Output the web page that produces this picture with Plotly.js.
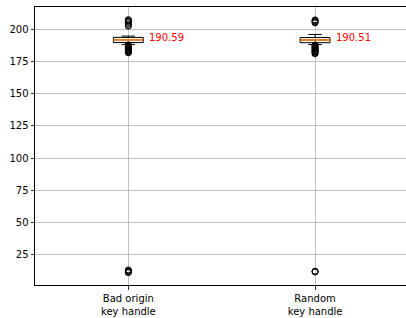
<!DOCTYPE html>
<html>
<head>
<meta charset="utf-8">
<script src="https://cdn.plot.ly/plotly-3.0.1.min.js"></script>
<style>html,body{margin:0;padding:0;background:#fff;}#chart{width:406px;height:318px;}</style>
</head>
<body>
<div id="chart"></div>
<script>
// ---- data ----
const positions = [1, 2];
const categories = ['Bad origin<br>key handle', 'Random<br>key handle'];
const q1 = [189.6, 189.5];
const medians = [191.7, 191.6];
const q3 = [193.6, 193.5];
const lowerWhisker = [188.2, 188.1];
const upperWhisker = [194.6, 195.9];
const meanLabels = [190.59, 190.51];
const outliersBad = [207.4, 206.9, 206.1, 205.3, 204.2, 202.9, 202.3,
  187.9, 187.4, 187.0, 186.5, 186.2, 185.7, 185.1, 184.8, 184.2, 183.9, 183.3, 182.9, 182.4, 182.0, 181.7,
  13.2, 12.6, 12.1, 11.5, 11.1];
const outliersRandom = [207.2, 206.7, 206.0, 205.4, 204.9,
  187.8, 187.3, 186.8, 186.2, 185.9, 185.3, 184.7, 184.3, 183.6, 183.1, 182.6, 182.2, 181.5, 180.9,
  12.2, 11.9, 11.6];
const outliers = [outliersBad, outliersRandom];

// ---- styles ----
const boxWidth = 0.16;
const font = {family: 'DejaVu Sans', size: 10, color: '#000'};

const traces = [];
positions.forEach((p, i) => {
  traces.push({
    type: 'box', x: [p], q1: [q1[i]], median: [medians[i]], q3: [q3[i]],
    lowerfence: [lowerWhisker[i]], upperfence: [upperWhisker[i]],
    width: boxWidth, whiskerwidth: 0.45, boxpoints: false,
    fillcolor: 'rgba(0,0,0,0)', line: {color: '#000', width: 1},
    showlegend: false, hoverinfo: 'skip'
  });
  traces.push({
    type: 'scatter', mode: 'markers',
    x: outliers[i].map(() => p), y: outliers[i],
    marker: {symbol: 'circle-open', size: 6, color: '#000', line: {width: 1, color: '#000'}},
    showlegend: false, hoverinfo: 'skip'
  });
  traces.push({
    type: 'scatter', mode: 'lines',
    x: [p - boxWidth / 2, p + boxWidth / 2], y: [medians[i], medians[i]],
    line: {color: '#ff7f0e', width: 1.5},
    showlegend: false, hoverinfo: 'skip'
  });
});

const annotations = positions.map((p, i) => ({
  x: p + 0.1, y: meanLabels[i], xref: 'x', yref: 'y',
  text: meanLabels[i].toFixed(2), showarrow: false,
  xanchor: 'left', yanchor: 'middle', yshift: 4,
  font: {family: 'DejaVu Sans', size: 10, color: '#ff0000'}
}));

const axisCommon = {
  showgrid: true, gridcolor: '#b0b0b0', gridwidth: 0.8,
  showline: true, mirror: true, linecolor: '#000', linewidth: 1,
  ticks: 'outside', ticklen: 3.5, tickcolor: '#000', tickwidth: 0.8,
  zeroline: false, tickfont: font
};

const layout = {
  width: 406, height: 318,
  margin: {l: 35, r: 0, t: 7, b: 33},
  paper_bgcolor: '#fff', plot_bgcolor: '#fff',
  font: font, showlegend: false,
  xaxis: Object.assign({}, axisCommon, {
    range: [0.5, 2.487], tickmode: 'array', tickvals: positions, ticktext: categories
  }),
  yaxis: Object.assign({}, axisCommon, {
    range: [1.5, 217.2], tick0: 0, dtick: 25
  }),
  annotations: annotations
};

Plotly.newPlot('chart', traces, layout, {staticPlot: true, displayModeBar: false});
</script>
</body>
</html>
